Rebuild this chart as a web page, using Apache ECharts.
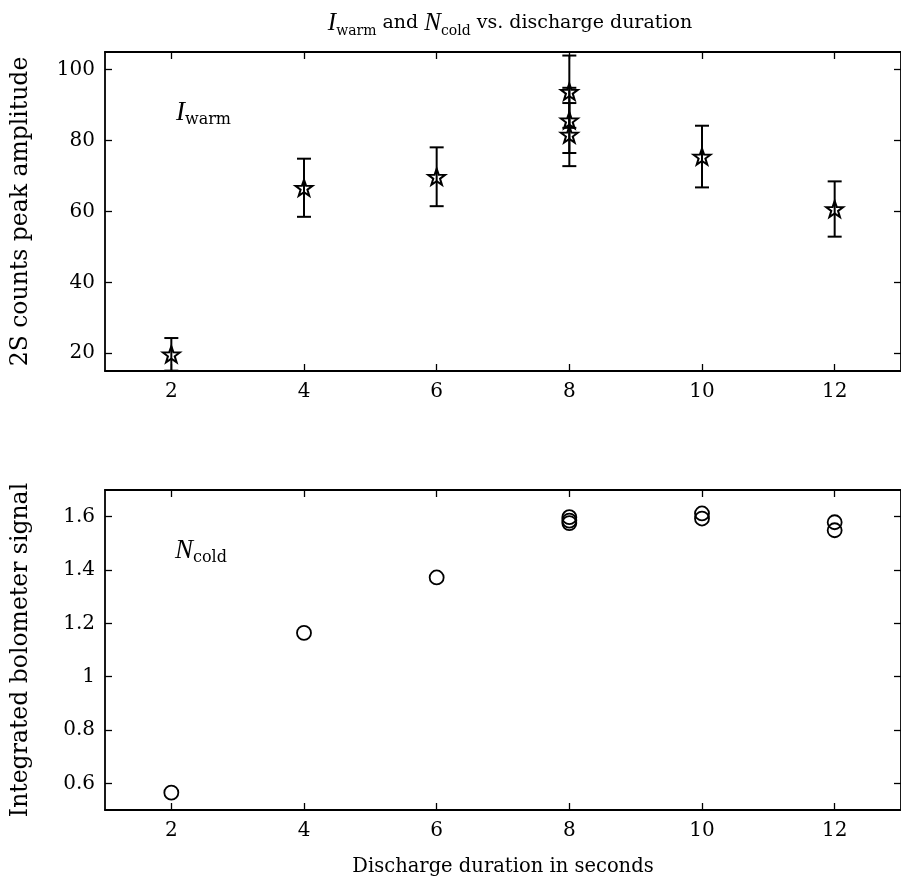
<!DOCTYPE html>
<html>
<head>
<meta charset="utf-8">
<script src="https://cdn.jsdelivr.net/npm/echarts@6/dist/echarts.min.js"></script>
<style>
  html, body { margin: 0; padding: 0; background: #fff; }
  #chart { width: 901px; height: 888px; }
</style>
</head>
<body>
<div id="chart"></div>
<script>
// top panel: I_warm, star markers with error bars
const warmX = [2, 4, 6, 8, 8, 8, 10, 12];
const warmY = [19.7, 66.7, 69.8, 93.8, 85.7, 81.7, 75.5, 60.7];
const warmErr = [4.6, 8.2, 8.3, 10.2, 9.2, 8.9, 8.7, 7.8];
// bottom panel: N_cold, open circles
const coldX = [2, 4, 6, 8, 8, 8, 10, 10, 12, 12];
const coldY = [0.565, 1.164, 1.372, 1.598, 1.585, 1.576, 1.612, 1.593, 1.579, 1.549];
// tick labels
const xTicks = [2, 4, 6, 8, 10, 12];
const yTicksTop = [20, 40, 60, 80, 100];
const yTicksBottom = [0.6, 0.8, 1, 1.2, 1.4, 1.6];

const font = "'DejaVu Serif', 'Liberation Serif', serif";
const italicFont = "'Liberation Serif', 'DejaVu Serif', serif";
const black = '#000';
const starPath = 'path://M0,-10L2.35,-3.24L9.51,-3.09L3.8,1.24L5.88,8.09L0,4L-5.88,8.09L-3.8,1.24L-9.51,-3.09L-2.35,-3.24Z';

const chart = echarts.init(document.getElementById('chart'));

function axisX(gridIndex, withLabels, name) {
    return {
        type: 'value',
        gridIndex: gridIndex,
        position: withLabels ? 'bottom' : 'top',
        min: 1, max: 13,
        name: name || '',
        nameLocation: 'middle',
        nameGap: 47,
        nameTextStyle: {fontFamily: font, fontSize: 19.5, color: black},
        axisLine: {show: true, lineStyle: {color: black, width: 1.8}},
        axisTick: {show: true, inside: true, length: 7, customValues: xTicks, lineStyle: {color: black, width: 1.3}},
        axisLabel: {show: withLabels, customValues: xTicks, margin: 11,
            fontFamily: font, fontSize: 20, color: black},
        splitLine: {show: false}
    };
}

function axisY(gridIndex, left, min, max, ticks, name) {
    return {
        type: 'value',
        gridIndex: gridIndex,
        position: left ? 'left' : 'right',
        min: min, max: max,
        name: name || '',
        nameLocation: 'middle',
        nameGap: 72,
        nameTextStyle: {fontFamily: font, fontSize: 23.5, color: black},
        axisLine: {show: true, lineStyle: {color: black, width: 1.8}},
        axisTick: {show: true, inside: true, length: 7, customValues: ticks, lineStyle: {color: black, width: 1.3}},
        axisLabel: {show: left, customValues: ticks, margin: 10,
            formatter: function (v) { return String(v); },
            fontFamily: font, fontSize: 20, color: black},
        splitLine: {show: false}
    };
}

const warmData = warmX.map(function (x, i) { return [x, warmY[i]]; });
const warmBars = warmX.map(function (x, i) { return [x, warmY[i] - warmErr[i], warmY[i] + warmErr[i]]; });
const coldData = coldX.map(function (x, i) { return [x, coldY[i]]; });

function richStyle(size, big, sub) {
    return {
        i: {fontFamily: italicFont, fontStyle: 'italic', fontWeight: 'normal', fontSize: big, color: black, lineHeight: 30, verticalAlign: 'middle'},
        s: {fontFamily: font, fontWeight: 'normal', fontSize: sub, color: black, lineHeight: 30, verticalAlign: 'bottom'},
        t: {fontFamily: font, fontWeight: 'normal', fontSize: size, color: black, lineHeight: 30, verticalAlign: 'middle'}
    };
}

chart.setOption({
    animation: false,
    backgroundColor: '#fff',
    title: [
        {text: '{i|I}{s|warm}{t| and }{i|N}{s|cold}{t| vs. discharge duration}',
         left: 505, textAlign: 'center', top: 3, textStyle: {fontWeight: 'normal', rich: richStyle(19, 25, 14)}},
        {text: '{i|I}{s|warm}', left: 171, top: 93, textStyle: {fontWeight: 'normal', rich: richStyle(19, 27, 16)}},
        {text: '{i|N}{s|cold}', left: 170, top: 531, textStyle: {fontWeight: 'normal', rich: richStyle(19, 27, 16)}}
    ],
    grid: [
        {left: 105, top: 52, width: 796, height: 319},
        {left: 105, top: 490, width: 796, height: 320}
    ],
    xAxis: [
        axisX(0, true),
        axisX(0, false),
        axisX(1, true, 'Discharge duration in seconds'),
        axisX(1, false)
    ],
    yAxis: [
        axisY(0, true, 15, 105, yTicksTop, '2S counts peak amplitude'),
        axisY(0, false, 15, 105, yTicksTop),
        axisY(1, true, 0.5, 1.7, yTicksBottom, 'Integrated bolometer signal'),
        axisY(1, false, 0.5, 1.7, yTicksBottom)
    ],
    series: [
        {
            type: 'custom',
            xAxisIndex: 0, yAxisIndex: 0,
            data: warmBars,
            renderItem: function (params, api) {
                const x = api.value(0);
                const lo = api.coord([x, api.value(1)]);
                const hi = api.coord([x, api.value(2)]);
                const cap = 7;
                const style = {stroke: black, lineWidth: 2};
                return {
                    type: 'group',
                    children: [
                        {type: 'line', shape: {x1: lo[0], y1: lo[1], x2: hi[0], y2: hi[1]}, style: style},
                        {type: 'line', shape: {x1: lo[0] - cap, y1: lo[1], x2: lo[0] + cap, y2: lo[1]}, style: style},
                        {type: 'line', shape: {x1: hi[0] - cap, y1: hi[1], x2: hi[0] + cap, y2: hi[1]}, style: style}
                    ]
                };
            }
        },
        {
            type: 'scatter',
            xAxisIndex: 0, yAxisIndex: 0,
            data: warmData,
            symbol: starPath,
            symbolSize: [17, 16],
            itemStyle: {color: 'rgba(0,0,0,0)', borderColor: black, borderWidth: 2, opacity: 1}
        },
        {
            type: 'scatter',
            xAxisIndex: 2, yAxisIndex: 2,
            data: coldData,
            symbol: 'circle',
            symbolSize: 14,
            itemStyle: {color: 'rgba(0,0,0,0)', borderColor: black, borderWidth: 1.8, opacity: 1}
        }
    ]
});
</script>
</body>
</html>
